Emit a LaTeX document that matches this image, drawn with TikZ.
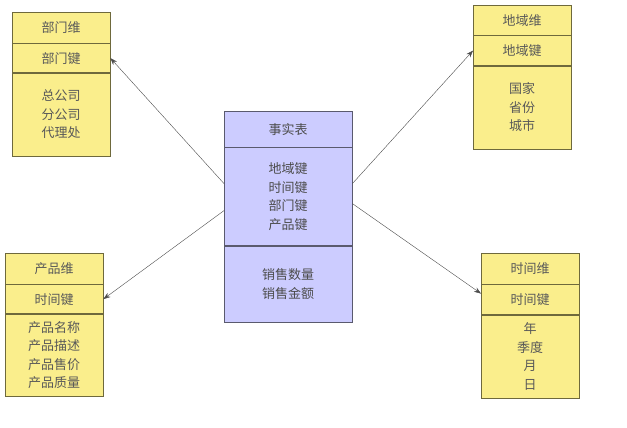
\documentclass[tikz,border=0pt]{standalone}
\usepackage{fontspec}
\setmainfont{Noto Sans CJK SC}
\usetikzlibrary{positioning,arrows.meta}
\definecolor{dimfill}{RGB}{250,238,140}
\definecolor{dimline}{RGB}{110,105,60}
\definecolor{factfill}{RGB}{204,204,255}
\definecolor{factline}{RGB}{90,90,110}
\begin{document}
\begin{tikzpicture}[x=1pt, y=-1pt,
    every node/.style={font=\fontsize{13}{18.5}\selectfont, inner sep=0pt, align=center},
    dimrow/.style={draw=dimline, fill=dimfill, text=black!65, minimum width=98pt},
    factrow/.style={draw=factline, fill=factfill, text=black!70, minimum width=128pt},
    link/.style={-{Stealth[length=7pt,width=5pt]}, draw=black!70}]
    \useasboundingbox (0,0) rectangle (627,428);
    % department dimension
    \node[dimrow, minimum height=31pt, anchor=north west] (dept-t) at (12,12) {部门维};
    \node[dimrow, minimum height=29pt, below=0pt of dept-t] (dept-k) {部门键};
    \node[dimrow, minimum height=83pt, below=0pt of dept-k] (dept-b) {总公司\\分公司\\代理处};
    % region dimension
    \node[dimrow, minimum height=30pt, anchor=north west] (reg-t) at (473,5) {地域维};
    \node[dimrow, minimum height=30pt, below=0pt of reg-t] (reg-k) {地域键};
    \node[dimrow, minimum height=83pt, below=0pt of reg-k] (reg-b) {国家\\省份\\城市};
    % product dimension
    \node[dimrow, minimum height=31pt, anchor=north west] (prod-t) at (5,253) {产品维};
    \node[dimrow, minimum height=29pt, below=0pt of prod-t] (prod-k) {时间键};
    \node[dimrow, minimum height=82pt, below=0pt of prod-k] (prod-b) {产品名称\\产品描述\\产品售价\\产品质量};
    % time dimension
    \node[dimrow, minimum height=31pt, anchor=north west] (time-t) at (481,253) {时间维};
    \node[dimrow, minimum height=30pt, below=0pt of time-t] (time-k) {时间键};
    \node[dimrow, minimum height=83pt, below=0pt of time-k] (time-b) {年\\季度\\月\\日};
    % fact table
    \node[factrow, minimum height=36pt, anchor=north west] (fact-t) at (224,111) {事实表};
    \node[factrow, minimum height=98pt, below=0pt of fact-t] (fact-k) {地域键\\时间键\\部门键\\产品键};
    \node[factrow, minimum height=76pt, below=0pt of fact-k] (fact-m) {销售数量\\销售金额};
    % links
    \draw[link] ([yshift=13pt]fact-k.west) -- (dept-k.east);
    \draw[link] ([yshift=-14pt]fact-k.west) -- (prod-k.east);
    \draw[link] ([yshift=13pt]fact-k.east) -- (reg-k.west);
    \draw[link] ([yshift=-7pt]fact-k.east) -- ([yshift=6pt]time-k.west);
\end{tikzpicture}
\end{document}
